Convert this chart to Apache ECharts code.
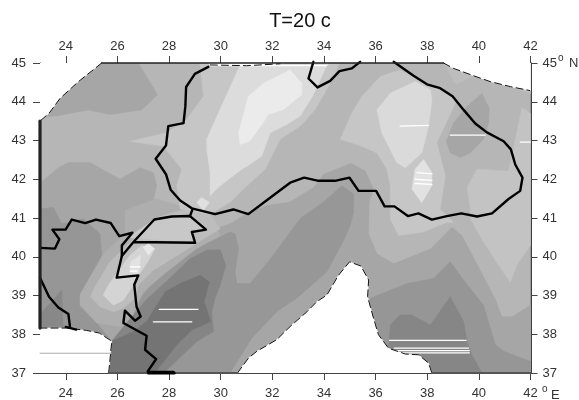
<!DOCTYPE html>
<html><head><meta charset="utf-8">
<script src="https://cdn.jsdelivr.net/npm/echarts@6/dist/echarts.min.js"></script>
<style>html,body{margin:0;background:#fff}#c{width:579px;height:400px}</style></head>
<body><div id="c"></div>
<script>
var xTicks=[24,26,28,30,32,34,36,38,40,42];
var yTicks=[37,38,39,40,41,42,43,44,45];
var titleText='T=20 c';
// dark family
var nwPatch=[[23,45],[26.81,45],[27.55,44.18],[26.94,43.79],[25.71,43.67],[24.87,43.79],[23.71,43.64],[23,43.6]];
var mainWest=[[23,41.9],[23.71,42.3],[24.1,42.43],[24.94,42.43],[26.1,42],[26.87,42.3],[27.39,42.17],[27.52,41.83],[27.4,41.49],[29.59,40.68],[30.37,40.85],[31.08,41.15],[31.79,41.32],[32.69,41.41],[33.6,41.79],[33.98,42.13],[35.04,42.41],[35.6,42.22],[35.92,41.75],[35.75,41.41],[35.73,40.59],[36.05,40.08],[36.7,39.82],[38.12,40.2],[38.96,40.76],[39.34,40.55],[40.05,39.65],[40.64,38.9],[40.89,38.45],[41.28,38.45],[42,38.75],[42,37],[23,37]];
var westDark=[[23,41.23],[23.52,41.28],[23.84,40.85],[24.68,40.98],[25.33,40.59],[25.39,40.04],[24.55,39.05],[24.55,38.75],[25.2,38.29],[25.78,37.82],[25.66,37],[23,37]];
var greecePatch=[[23,38.5],[23.84,39.14],[23.9,38.2],[23,38.2]];
var eastBand=[[42,37],[42,37.3],[40.96,37.56],[40.64,37.73],[40.18,38.75],[39.41,39.4],[38.89,39.87],[38.25,39.44],[37.21,39.31],[35.79,38.93],[35.5,37]];
var anatolia=[[29.59,40.38],[30.37,40.64],[30.56,40.59],[30.69,40.21],[30.56,39.61],[30.62,39.31],[31.14,39.31],[32.04,40.04],[32.88,40.81],[33.14,41.02],[33.98,41.41],[34.69,41.83],[35.15,41.62],[35.15,41.15],[35.02,40.81],[34.76,40.42],[34.11,39.61],[32.95,38.93],[32.2,38.6],[31.2,37.9],[30.36,37],[25.7,37],[25.78,37.82],[26.49,38.34],[26.88,38.93],[27.52,39.44],[28.17,39.87],[29.2,40.38]];
var southDark=[[29.98,40.18],[30.2,39.78],[29.98,39.27],[29.78,38.93],[29.65,38.58],[29.72,38.07],[29.07,37.81],[27.78,37],[25.7,37],[25.78,37.82],[26.49,38.4],[27.13,38.9],[28.04,39.45],[28.81,39.95],[29.46,40.17]];
var eastDark=[[36.5,37.64],[36.57,38.24],[36.95,38.5],[37.4,38.5],[38.12,38.24],[38.89,38.97],[39.41,38.33],[39.54,37.81],[39.73,37.47],[40.12,37],[38,37]];
var darkest=[[29.2,39.52],[29.56,39.35],[29.36,38.84],[29.61,38.33],[28.88,38.11],[28.3,37.73],[27.5,37.05],[27.13,37],[25.7,37],[25.78,37.82],[26.62,38.07],[27.13,38.33],[27.52,38.75],[27.85,39.1],[28.43,39.31]];
var nePatch=[[40.12,44.22],[40.4,43.84],[40.38,43.45],[40.18,43.03],[39.67,42.68],[39.28,42.56],[38.89,42.68],[38.74,42.98],[39.02,43.45],[39.54,43.88]];
// light family
var tongueOuter=[[26.3,41.2],[26.3,40.6],[25.5,40.1],[24.55,39.01],[24.55,38.75],[25.2,38.29],[26.1,38.2],[26.6,38.5],[27,39.1],[27.91,39.61],[29.07,40.21],[29.98,40.55],[29.59,41.1],[27.5,41.49]];
var tongueMid=[[24.94,38.97],[25.13,39.22],[25.71,39.87],[26.1,40.12],[26.49,40.38],[27.39,40.98],[28.17,41.15],[28.81,41.23],[29.59,41.1],[29.98,40.72],[29.46,40.51],[28.43,40.08],[27.39,39.65],[26.81,39.27],[26.68,38.93],[26.23,38.67],[25.84,38.58],[25.33,38.71]];
var marmaraFill=[[26.4,40.5],[27.43,40.96],[28.1,41.04],[28.81,41.05],[29.43,40.7],[28.88,40.64],[29.01,40.36]];
var tongueLight=[[25.45,39.01],[25.65,39.27],[25.97,39.57],[26.49,40.04],[26.94,40.29],[27.46,40.21],[27.13,39.82],[26.81,39.52],[26.62,39.27],[26.23,38.88],[25.84,38.75]];
var tongueTipA=[[27,40.25],[27.2,40.34],[27.42,40.21],[27.2,40.04]];
var tongueTipB=[[26.5,39.85],[26.9,40.05],[26.81,39.52],[26.5,39.6]];
var westLight=[[29.2,45],[29.33,44.14],[28.68,43.54],[27.91,43.2],[26.49,42.98],[27.78,42.85],[28.49,42.26],[28.3,41.83],[28.43,41.23],[29.59,41.1],[30.37,41.41],[30.88,41.75],[31.72,42.26],[32.3,43.03],[33.08,43.37],[33.66,43.8],[34.24,44.48],[34.6,45]];
var westLighter=[[29.46,43.03],[29.91,43.71],[30.49,44.56],[30.69,44.86],[30.8,45],[34.2,45],[34.06,44.87],[33.59,44.18],[33.08,43.63],[32.56,43.41],[31.92,43.2],[31.59,42.6],[31.14,42.39],[30.82,42.26],[29.98,41.83],[29.59,41.58],[29.59,42.17],[29.46,42.77]];
var westLightest=[[30.69,43.2],[31.07,44.14],[31.66,44.48],[32.69,44.82],[33.14,44.48],[33.14,44.18],[32.43,43.8],[31.85,43.67],[31.59,43.41],[31.14,42.99],[30.75,42.9]];
var smallPatch=[[29.07,41.4],[29.26,41.53],[29.56,41.4],[29.33,41.2]];
var eastLight=[[34.63,43.03],[35.08,43.71],[35.47,44.14],[36.18,44.65],[36.95,44.82],[37.99,44.48],[38.5,44.35],[39.15,44.05],[38.37,42.94],[38.7,42.09],[38.5,41.23],[39.02,40.89],[38.76,40.89],[37.86,40.64],[36.89,40.55],[36.57,40.98],[36.57,41.83],[36.44,42.26],[36.05,42.68],[35.47,42.85]];
var eastLighter=[[36.05,43.79],[36.57,44.22],[37.53,44.52],[38.12,44.31],[38.18,44.05],[38.05,43.37],[37.79,42.68],[37.15,42.3],[36.82,42.43],[36.24,43.2],[36.11,43.62]];
var eastLightest=[[37.86,42.51],[38.18,42.17],[38.18,41.83],[37.79,41.4],[37.41,41.74],[37.53,42.26]];
var neLight=[[39.67,41.23],[39.54,41.79],[39.93,42.26],[41.15,42.21],[41.67,43.84],[42,43.7],[42,40.29],[41.47,39.78],[41.22,39.35],[40.76,39.78],[40.18,40.38],[39.67,40.98]];
var neStrip=[[38.63,45],[39.1,44.45],[39.9,44.7],[42,44.2],[42,45]];
// mask edges
var edgeNW=[[25.39,45],[24.49,44.52],[23.78,44.09],[23.36,43.71],[23,43.5]];
var edgeNE=[[38.63,45],[39.02,44.86],[39.8,44.67],[40.44,44.52],[41.22,44.39],[41.97,44.29]];
var edgeTop=[[29.6,44.95],[31,44.93],[32.3,44.98]];
var edgeSW=[[23,38.16],[24.03,38.16],[24.8,38.1],[25.3,38.03],[25.78,37.82],[25.66,37]];
var edgeBay=[[30.65,37],[31.08,37.39],[31.4,37.56],[32.17,37.86],[32.69,38.2],[33.34,38.58],[33.72,38.84],[34.11,39.01],[34.56,39.52],[34.99,39.87],[35.43,39.76],[35.73,39.4],[35.69,38.97],[35.92,38.41],[36.11,37.99],[36.5,37.64],[37.15,37.49],[37.66,37.47],[38.05,37.26],[38.18,37]];
// coast lines
var coastWest=[[29.52,44.9],[29,44.72],[28.66,44.38],[28.63,43.88],[28.56,43.45],[27.97,43.37],[27.88,42.87],[27.48,42.53],[27.88,42.13],[28.06,41.73],[28.43,41.45],[28.88,41.25],[29.78,41.1],[30.49,41.22],[31.07,41.1],[31.85,41.49],[32.69,41.91],[33.23,42.04],[33.79,41.96],[34.43,41.96],[34.99,42.04],[35.34,41.7],[36.02,41.7],[36.35,41.3],[36.73,41.3],[37.25,41.05],[37.66,41.12],[38.18,40.96],[38.76,41.05],[39.32,41.12],[39.93,41.04],[40.51,41.12],[41.15,41.49],[41.6,41.7],[41.69,42.04],[41.41,42.38],[41.24,42.77],[40.96,42.98],[40.31,43.21],[39.86,43.44],[39.41,43.79],[38.98,44.14],[38.5,44.35],[37.99,44.45],[37.47,44.67],[36.7,45.03]];
var crimea=[[33.59,45.03],[33.4,44.6],[33.75,44.37],[34.24,44.54],[34.6,44.79],[35.08,44.86],[35.4,45.03]];
var thrace=[[23,40.23],[23.58,40.21],[23.75,40.45],[23.48,40.7],[23.99,40.7],[24.23,40.96],[24.75,40.87],[25.17,40.96],[25.74,40.87],[26.07,40.53],[26.58,40.62],[26.17,40.29],[26.17,40.02],[25.97,39.46],[26.81,39.52],[26.65,39.28],[26.74,38.71],[26.9,38.46],[26.68,38.35],[26.29,38.61],[26.23,38.29],[27.13,37.96],[27.07,37.6],[27.5,37.36],[27.16,37.03],[28.17,37.03]];
var marmara=[[26.17,40.02],[26.62,40.38],[27.43,40.96],[28.1,41.04],[28.81,41.05],[29.43,40.7],[28.88,40.64],[29.01,40.36],[26.62,40.38]];
var bosphorus=[[28.81,41.05],[28.91,41.23]];
var greece=[[23,39.46],[23.35,38.97],[23.71,38.69],[24.1,38.52],[24.16,38.2]];
var greeceTip=[[24,38.19],[24.4,38.12]];
var leftEdge=[[23,43.5],[23,38.16]];
var topEdge=[[25.39,45],[38.63,45]];
var bottomBlack=[[27.2,37],[28.2,37]];
var bottomGrayA=[[25.66,37],[30.65,37]];
var bottomGrayB=[[38.18,37],[42,37]];
// white and gray scan lines
var whiteSegments=[
 [[36.95,43.37],[38.05,43.39]],[[38.89,43.14],[40.25,43.14]],[[41.6,42.96],[42,42.96]],
 [[37.6,42.17],[38.18,42.14]],[[37.53,42],[38.18,41.97]],[[37.53,41.89],[38.18,41.87]],
 [[27.62,38.64],[29.12,38.64]],[[27.39,38.32],[28.88,38.32]],
 [[26.49,39.74],[26.88,39.74]],[[26.49,39.63],[26.75,39.63]],
 [[36.54,37.84],[39.5,37.84]],[[36.72,37.64],[39.6,37.64]],[[36.82,37.58],[39.63,37.58]],[[36.89,37.52],[39.63,37.52]],
 [[29.6,44.93],[34.1,44.93]]];
var graySegment=[[23,37.51],[25.75,37.51]];

var fills=[
 [nwPatch,'#a6a6a6'],[neStrip,'#bdbdbd'],[mainWest,'#a6a6a6'],[westDark,'#969696'],[greecePatch,'#888888'],
 [eastBand,'#969696'],[anatolia,'#979797'],[southDark,'#858585'],[eastDark,'#868686'],[darkest,'#747474'],[nePatch,'#a6a6a6'],
 [tongueOuter,'#aeaeae'],[tongueMid,'#bdbdbd'],[marmaraFill,'#c8c8c8'],[tongueLight,'#d4d4d4'],[tongueTipA,'#e8e8e8'],[tongueTipB,'#e2e2e2'],
 [westLight,'#c6c6c6'],[westLighter,'#dcdcdc'],[westLightest,'#ebebeb'],[smallPatch,'#e0e0e0'],
 [eastLight,'#c6c6c6'],[eastLighter,'#dadada'],[eastLightest,'#e2e2e2'],[neLight,'#c3c3c3']];
var masks=[
 edgeNW.concat([[23,45]]),
 edgeNE.concat([[42,44.29],[42,45]]),
 [[29.5,45],[29.6,44.95],[31,44.93],[32.3,44.98],[32.5,45]],
 edgeSW.concat([[23,37]]),
 edgeBay];

function polySeries(list,z){
 return {type:'custom',coordinateSystem:'cartesian2d',silent:true,animation:false,z:z,clip:true,
  encode:{x:0,y:1},data:list.map(function(p,i){return [p[0][0],p[0][1],i]}),
  renderItem:function(params,api){
   var it=list[params.dataIndex];
   return {type:'polygon',shape:{points:it[0].map(function(c){return api.coord(c)})},style:{fill:it[1],stroke:it[1],lineWidth:0.5}};
  }};
}
function lineSeries(d,color,w,z,dash){
 return {type:'line',data:d,symbol:'none',animation:false,silent:true,z:z,clip:false,smooth:false,
  lineStyle:{color:color,width:w,type:dash?[7,4]:'solid',join:'round',cap:'round'}};
}
var series=[polySeries([[[[23,37],[42,37],[42,45],[23,45]],'#b6b6b6']],1),polySeries(fills,2),
 polySeries(masks.map(function(m){return [m,'#ffffff']}),3)];
whiteSegments.forEach(function(s){series.push(lineSeries(s,'#ffffff',1.3,4))});
series.push(lineSeries(graySegment,'#aaaaaa',1,4));
[edgeNW,edgeNE,edgeTop,edgeSW,edgeBay].forEach(function(e){series.push(lineSeries(e,'#111111',1,5,true))});
[coastWest,crimea,thrace,marmara,bosphorus,greece,greeceTip].forEach(function(c){series.push(lineSeries(c,'#000000',2.4,6))});
series.push(lineSeries(leftEdge,'#222222',3.2,6));
series.push(lineSeries(topEdge,'#222222',1.6,6));
series.push(lineSeries(bottomGrayA,'#555555',1.8,6));
series.push(lineSeries(bottomGrayB,'#555555',1.8,6));
series.push(lineSeries(bottomBlack,'#000000',3,7));

var lab={fontFamily:'Liberation Sans',fontSize:13,color:'#333333'};
function xAx(pos,m){return {type:'value',position:pos,min:23,max:42,splitLine:{show:false},
 axisLine:{show:true,onZero:false,lineStyle:{color:'#444444',width:1}},
 axisTick:{show:true,length:7,customValues:xTicks,lineStyle:{color:'#444444',width:1}},
 axisLabel:Object.assign({show:true,margin:m,customValues:xTicks},lab)}}
function yAx(pos,m){return {type:'value',position:pos,min:37,max:45,splitLine:{show:false},
 axisLine:{show:true,onZero:false,lineStyle:{color:pos==='right'?'#000000':'#444444',width:pos==='right'?1.5:1}},
 axisTick:{show:true,length:7,customValues:yTicks,lineStyle:{color:'#444444',width:1}},
 axisLabel:Object.assign({show:true,margin:m,customValues:yTicks},lab)}}
var chart=echarts.init(document.getElementById('c'),null,{renderer:'canvas'});
chart.setOption({animation:false,backgroundColor:'#ffffff',
 title:{text:titleText,left:295,top:6,textAlign:'center',textStyle:{fontFamily:'Liberation Sans',fontSize:20,fontWeight:'normal',color:'#111111'}},
 grid:{left:40,right:48.5,top:63,bottom:25,containLabel:false},
 xAxis:[xAx('bottom',14),xAx('top',10)],yAxis:[yAx('left',14),yAx('right',12)],
 series:series,
 graphic:[
  {type:'text',left:558,top:53,style:{text:'o',font:'10px Liberation Sans',fill:'#333'}},
  {type:'text',left:569,top:57,style:{text:'N',font:'13px Liberation Sans',fill:'#333'}},
  {type:'text',left:542,top:384,style:{text:'o',font:'10px Liberation Sans',fill:'#333'}},
  {type:'text',left:551,top:389,style:{text:'E',font:'13px Liberation Sans',fill:'#333'}}
 ]});
</script></body></html>
